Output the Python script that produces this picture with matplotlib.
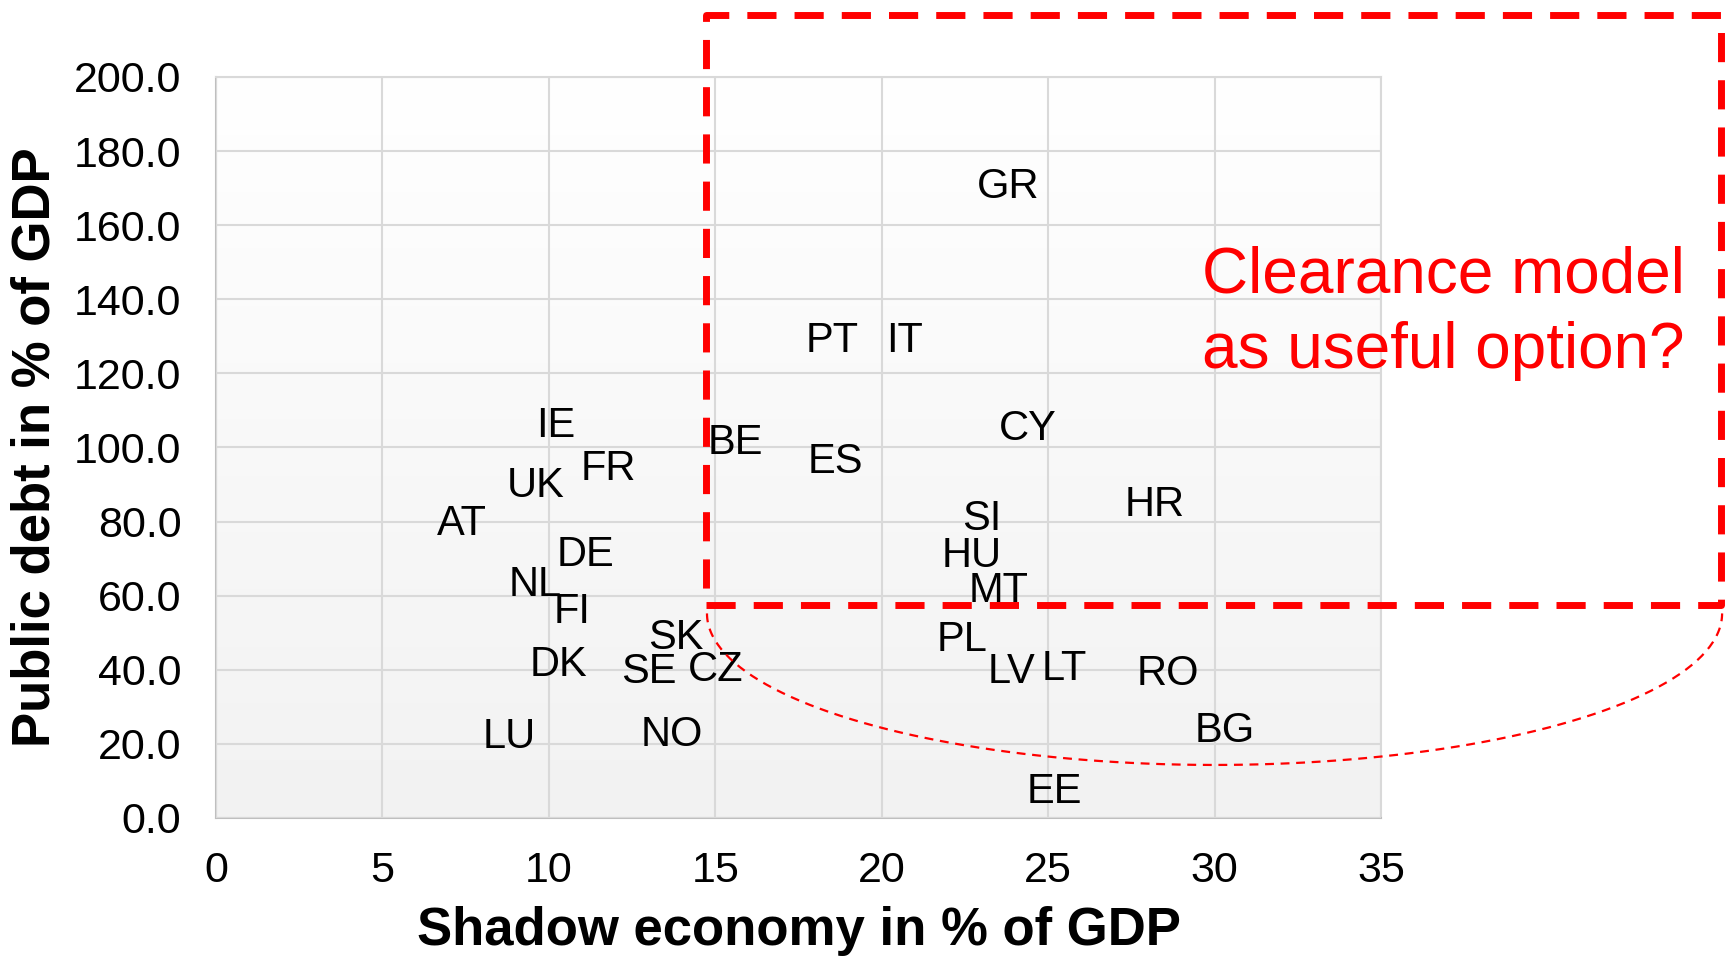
import numpy as np
import matplotlib
matplotlib.use("Agg")
import matplotlib.pyplot as plt
from matplotlib.colors import LinearSegmentedColormap

plt.rcParams['font.family'] = ['Liberation Sans', 'DejaVu Sans']

# Data (shadow economy % GDP, public debt % GDP)
countries = ["GR", "PT", "IT", "IE", "BE", "CY", "ES", "FR", "UK", "HR",
             "AT", "SI", "DE", "HU", "NL", "MT", "FI", "SK", "PL", "DK",
             "SE", "CZ", "LV", "LT", "RO", "LU", "NO", "BG", "EE"]
shadow = [23.8, 18.5, 20.7, 10.2, 15.6, 24.4, 18.6, 11.8, 9.6, 28.2,
          7.4, 23.0, 11.1, 22.7, 9.6, 23.5, 10.7, 13.8, 22.4, 10.3,
          13.0, 15.0, 23.9, 25.5, 28.6, 8.8, 13.7, 30.3, 25.2]
debt = [171.6, 129.9, 129.9, 106.9, 102.4, 106.3, 97.3, 95.5, 90.7, 85.7,
        80.6, 81.8, 72.2, 71.9, 64.2, 62.4, 56.7, 49.9, 49.3, 42.4,
        40.6, 41.2, 40.6, 41.5, 40.0, 23.0, 23.6, 24.8, 8.1]

x_ticks = [0, 5, 10, 15, 20, 25, 30, 35]
y_ticks = [0, 20, 40, 60, 80, 100, 120, 140, 160, 180, 200]

fig = plt.figure(figsize=(17.34, 9.6), dpi=100)
ax = fig.add_axes([0.1246, 0.148, 0.7964 - 0.1246, 0.9198 - 0.148])

ax.set_xlim(0, 35)
ax.set_ylim(0, 200)

# gradient background
grad = np.linspace(0, 1, 256).reshape(-1, 1)
cmap = LinearSegmentedColormap.from_list("bg", ["#f2f2f2", "#ffffff"])
ax.imshow(grad, extent=[0, 35, 0, 200], origin="lower", aspect="auto",
          cmap=cmap, zorder=0)

ax.set_xticks(x_ticks)
ax.set_yticks(y_ticks)
ax.set_yticklabels([f"{v:.1f}" for v in y_ticks])
ax.set_xticklabels([str(v) for v in x_ticks])
ax.grid(True, color="#d9d9d9", linewidth=1.5, zorder=1)
ax.set_axisbelow(False)
ax.tick_params(length=0, labelsize=31)
ax.tick_params(axis='y', pad=25)
ax.tick_params(axis='x', pad=24)
for s in ax.spines.values():
    s.set_color("#d9d9d9")
    s.set_linewidth(1.5)
ax.spines['left'].set_color("#bfbfbf")
ax.spines['bottom'].set_color("#bfbfbf")

ax.scatter(shadow, debt, s=0)
for c, xv, yv in zip(countries, shadow, debt):
    ax.text(xv, yv, c, ha="center", va="center_baseline", fontsize=30,
            color="black", zorder=3)

fig.text(0.4605, 0.030, "Shadow economy in % of GDP", fontsize=38,
         fontweight="bold", ha="center", va="center")
fig.text(0.0203, 0.5344, "Public debt in % of GDP", fontsize=38,
         fontweight="bold", ha="center", va="center", rotation=90)

# dashed red rectangle
rx0, rx1, ry0, ry1 = 14.71, 45.23, 57.6, 216.7
ax.plot([rx0, rx1, rx1, rx0, rx0], [ry0, ry0, ry1, ry1, ry0], color="#ff0000",
        linewidth=5, dashes=(4.2, 2.6), clip_on=False, zorder=4,
        solid_capstyle="butt", dash_capstyle="butt")

# dotted half-ellipse
t = np.linspace(np.pi, 2 * np.pi, 200)
ex = 30.0 + 15.25 * np.cos(t)
ey = 55.2 + 40.9 * np.sin(t)
ax.plot(ex, ey, color="#ff0000", linewidth=1.6, dashes=(4, 3), clip_on=False, zorder=4)

fig.text(1202 / 1734, 1 - 313 / 960, "Clearance model\nas useful option?",
         color="#ff0000", fontsize=46, ha="left", va="center", linespacing=1.32)

fig.savefig("out.png", dpi=100, facecolor="white")
